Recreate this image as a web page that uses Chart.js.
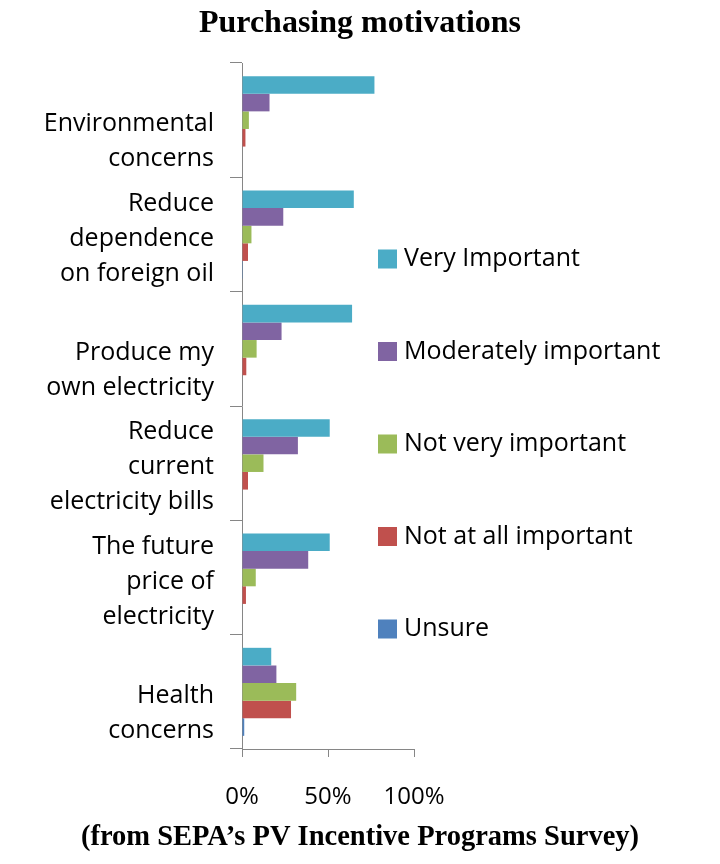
<!DOCTYPE html>
<html>
<head>
<meta charset="utf-8">
<script src="https://cdn.jsdelivr.net/npm/chart.js@4.4.0/dist/chart.umd.min.js"></script>
<style>
  html, body { margin: 0; padding: 0; background: #fff; }
  #wrap { width: 720px; height: 864px; }
</style>
</head>
<body>
<div id="wrap"><canvas id="myChart" width="720" height="864"></canvas></div>
<script>
// two-line labels sit low in their band, like the original, so they get an empty first line
var categories = [
  ["", "Environmental", "concerns"],
  ["Reduce", "dependence", "on foreign oil"],
  ["", "Produce my", "own electricity"],
  ["Reduce", "current", "electricity bills"],
  ["The future", "price of", "electricity"],
  ["", "Health", "concerns"]
];
var seriesNames = ["Very Important", "Moderately important", "Not very important", "Not at all important", "Unsure"];
var veryImportant = [77, 65, 64, 51, 51, 17];
var moderately    = [16, 24, 23, 32.5, 38.5, 20];
var notVery       = [4, 5.5, 8.5, 12.5, 8, 31.5];
var notAtAll      = [2, 3.5, 2.5, 3.5, 2.3, 28.5];
var unsure        = [0, 0.5, 0, 0, 0, 1.3];
var xTicks = [0, 50, 100];

var colors = ["#4BACC6", "#8064A2", "#9BBB59", "#C0504D", "#4F81BD"];
var values = [veryImportant, moderately, notVery, notAtAll, unsure];
var font = "Open Sans";

// legend sits partly over the plot, so draw it by hand
var sideLegend = {
  id: 'sideLegend',
  afterDraw: function (chart) {
    var ctx = chart.ctx;
    ctx.save();
    ctx.font = "25px '" + font + "'";
    ctx.textBaseline = "middle";
    ctx.textAlign = "left";
    chart.data.datasets.forEach(function (ds, i) {
      var y = 259 + i * 92.5;
      ctx.fillStyle = ds.backgroundColor;
      ctx.fillRect(378, y - 9.5, 19, 19);
      ctx.fillStyle = "#000";
      ctx.fillText(ds.label, 404, y);
    });
    ctx.restore();
  }
};

var myChart = new Chart(document.getElementById("myChart"), {
  type: 'bar',
  data: {
    labels: categories,
    datasets: seriesNames.map(function (name, i) {
      return {
        label: name,
        data: values[i],
        backgroundColor: colors[i],
        categoryPercentage: 0.77,
        barPercentage: 1.0
      };
    })
  },
  options: {
    indexAxis: 'y',
    responsive: false,
    animation: false,
    layout: { padding: 0 },
    plugins: {
      legend: { display: false },
      tooltip: { enabled: false },
      title: {
        display: true,
        text: "Purchasing motivations",
        color: "#000",
        font: { family: "Liberation Serif", size: 32, weight: 'bold', lineHeight: 1.2 },
        padding: { top: 4.3, bottom: 20.3 }
      },
      subtitle: {
        display: true,
        position: 'bottom',
        text: "(from SEPA\u2019s PV Incentive Programs Survey)",
        color: "#000",
        font: { family: "Liberation Serif", size: 28.5, weight: 'bold', lineHeight: 1.2 },
        padding: { top: 4, bottom: 8.9 }
      }
    },
    scales: {
      x: {
        min: 0,
        max: 100,
        afterBuildTicks: function (axis) {
          axis.ticks = xTicks.map(function (v) { return { value: v }; });
        },
        afterFit: function (axis) { axis.height = 67.9; },
        ticks: {
          color: "#000",
          padding: 25.4,
          font: { family: font, size: 24 },
          callback: function (v) { return v + "%"; }
        },
        grid: { drawOnChartArea: false, drawTicks: true, tickLength: 8, color: "#868686" },
        border: { color: "#868686", width: 1 }
      },
      y: {
        afterFit: function (axis) {
          axis.width = 242;
          axis.paddingTop = 0;
          axis.paddingBottom = 0;
        },
        ticks: {
          color: "#000",
          padding: 16,
          labelOffset: 4,
          font: { family: font, size: 25, lineHeight: 1.4 }
        },
        grid: { drawOnChartArea: false, drawTicks: true, tickLength: 12, color: "#868686" },
        border: { color: "#868686", width: 1 }
      },
      // empty axis on the right that keeps room for the legend
      spacer: {
        type: 'category',
        position: 'right',
        afterFit: function (axis) { axis.width = 306; },
        ticks: { display: false },
        grid: { display: false },
        border: { display: false }
      }
    }
  },
  plugins: [sideLegend]
});
</script>
</body>
</html>
